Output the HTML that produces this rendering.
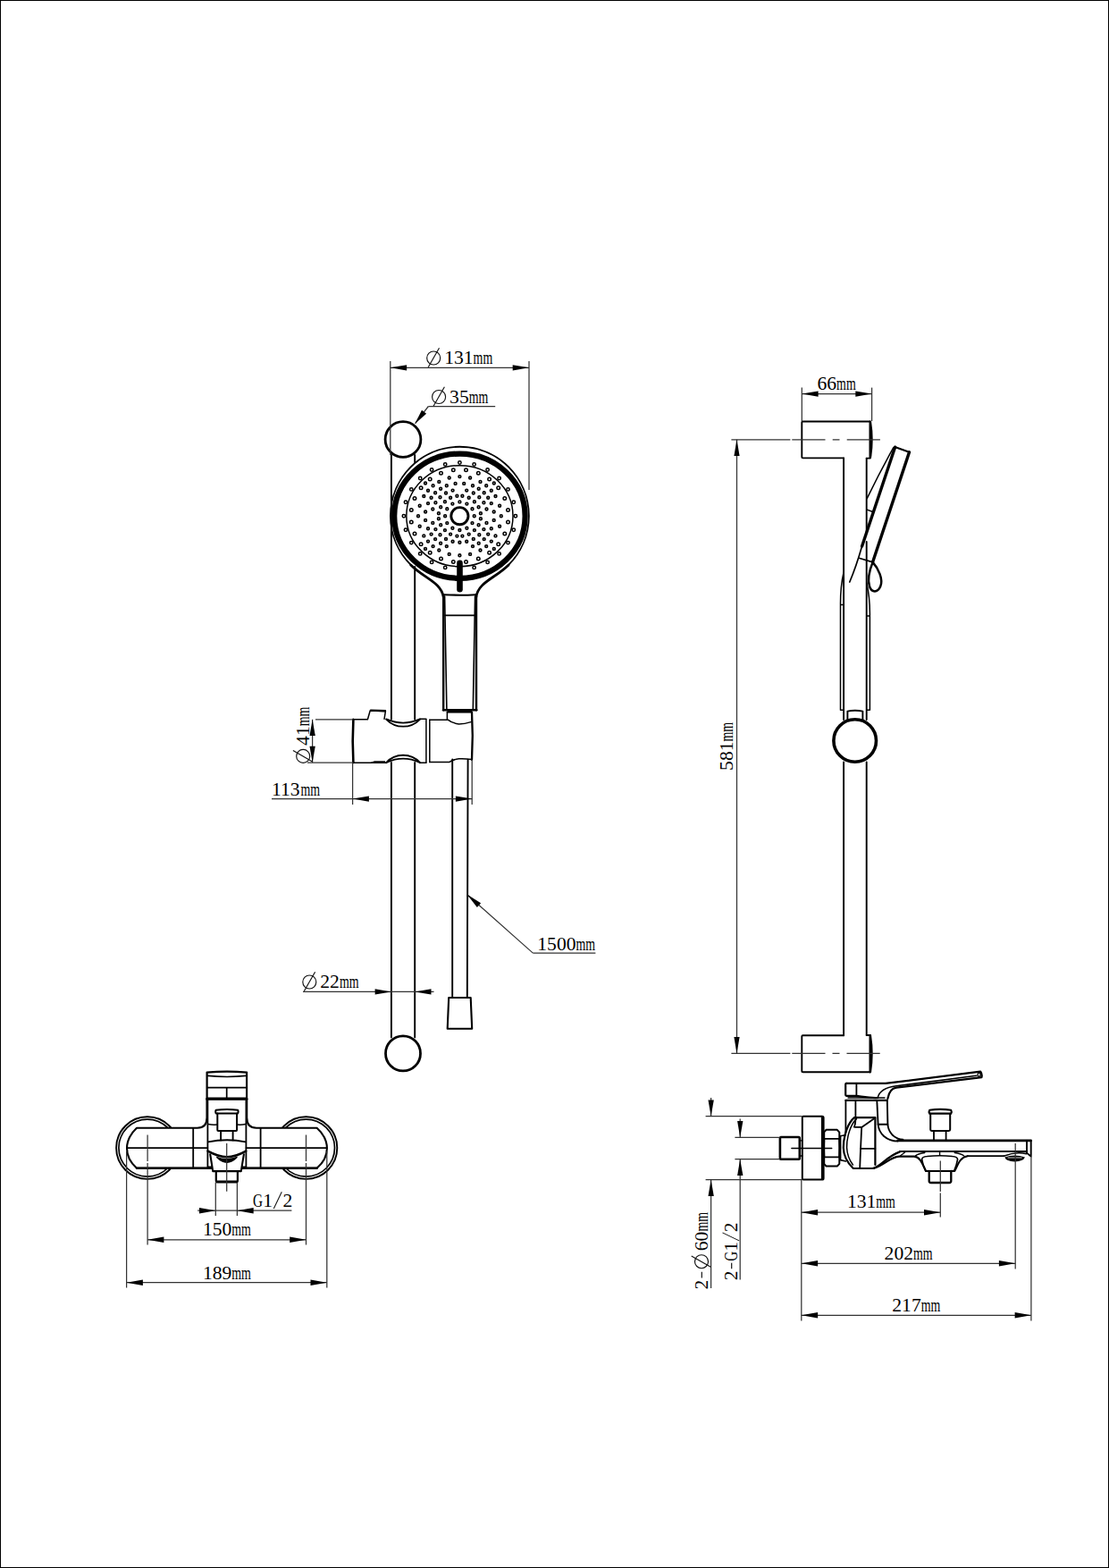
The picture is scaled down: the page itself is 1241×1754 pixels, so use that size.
<!DOCTYPE html>
<html><head><meta charset="utf-8"><title>Shower set drawing</title>
<style>
html,body{margin:0;padding:0;background:#fff;}
body{width:1241px;height:1754px;overflow:hidden;font-family:"Liberation Serif",serif;}
svg{display:block;position:absolute;left:0;top:0;}
.o{fill:none;stroke:#000;stroke-width:1.9;stroke-linecap:round;stroke-linejoin:round;}
.k{fill:none;stroke:#000;stroke-width:2.6;stroke-linecap:round;stroke-linejoin:round;}
.t{fill:none;stroke:#000;stroke-width:1.3;stroke-linecap:round;stroke-linejoin:round;}
.w{fill:#fff;stroke:#000;stroke-width:1.9;stroke-linejoin:round;}
.d{fill:none;stroke:#333;stroke-width:1.25;}
.s{fill:none;stroke:#111;stroke-width:1.15;}
.a{fill:#000;stroke:none;}
.h{fill:#ddd;stroke:#000;stroke-width:1.55;}.hw{fill:#fff;stroke-width:1.5;}
.tx text{font-family:"Liberation Serif",serif;font-size:21.6px;fill:#000;stroke:none;}
.tx text.m{font-size:21px;}
</style></head><body>
<svg width="1241" height="1754" viewBox="0 0 1241 1754">
<rect x="0.5" y="0.5" width="1240" height="1753" fill="#fff" stroke="#000" stroke-width="1"/>

<g id="front">
<path class="o" d="M437.9,509 V804.8 M437.9,853 V1160.5" />
<path class="o" d="M464.2,509 V517.5 M464.2,634 V804.8 M464.2,853 V1160.5" />
<circle class="o" cx="451" cy="491.5" r="19.9" style="stroke-width:2.8"/>
<circle class="o" cx="451" cy="1178.4" r="19.5" style="stroke-width:2.8"/>
<path class="o" d="M459.7,631.9 A77.4,77.4 0 1 1 569.1,631.9" />
<path class="o" d="M459.7,631.9 C474.7,646.9 493.5,651 496.3,668" style="stroke-width:2.8"/>
<path class="o" d="M569.1,631.9 C554.1,646.9 535.3,651 532.8,668" style="stroke-width:2.8"/>
<ellipse cx="514.4" cy="577.2" rx="73.2" ry="69.6" fill="none" stroke="#000" stroke-width="6.2"/>
<ellipse class="t" cx="514.4" cy="577.2" rx="59.6" ry="56.5" style="stroke-width:1.5"/>
<circle cx="514.4" cy="577.2" r="9.6" fill="none" stroke="#000" stroke-width="2.9"/>
<circle class="h hw" cx="514.4" cy="517.5" r="1.7"/>
<circle class="h hw" cx="530.6" cy="519.5" r="1.7"/>
<circle class="h hw" cx="545.6" cy="525.5" r="1.7"/>
<circle class="h hw" cx="558.6" cy="535.0" r="1.7"/>
<circle class="h hw" cx="568.5" cy="547.4" r="1.7"/>
<circle class="h hw" cx="574.8" cy="561.7" r="1.7"/>
<circle class="h hw" cx="576.9" cy="577.2" r="1.7"/>
<circle class="h hw" cx="574.8" cy="592.7" r="1.7"/>
<circle class="h hw" cx="568.5" cy="607.1" r="1.7"/>
<circle class="h hw" cx="558.6" cy="619.4" r="1.7"/>
<circle class="h hw" cx="545.6" cy="628.9" r="1.7"/>
<circle class="h hw" cx="530.6" cy="634.9" r="1.7"/>
<circle class="h hw" cx="498.2" cy="634.9" r="1.7"/>
<circle class="h hw" cx="483.1" cy="628.9" r="1.7"/>
<circle class="h hw" cx="470.2" cy="619.4" r="1.7"/>
<circle class="h hw" cx="460.3" cy="607.1" r="1.7"/>
<circle class="h hw" cx="454.0" cy="592.7" r="1.7"/>
<circle class="h hw" cx="451.9" cy="577.2" r="1.7"/>
<circle class="h hw" cx="454.0" cy="561.7" r="1.7"/>
<circle class="h hw" cx="460.3" cy="547.4" r="1.7"/>
<circle class="h hw" cx="470.2" cy="535.0" r="1.7"/>
<circle class="h hw" cx="483.1" cy="525.5" r="1.7"/>
<circle class="h hw" cx="498.2" cy="519.5" r="1.7"/>
<circle class="h hw" cx="521.5" cy="525.8" r="1.75"/>
<circle class="h hw" cx="535.3" cy="529.3" r="1.75"/>
<circle class="h hw" cx="547.6" cy="536.1" r="1.75"/>
<circle class="h hw" cx="557.7" cy="545.7" r="1.75"/>
<circle class="h hw" cx="564.8" cy="557.4" r="1.75"/>
<circle class="h hw" cx="568.5" cy="570.4" r="1.75"/>
<circle class="h hw" cx="568.5" cy="584.0" r="1.75"/>
<circle class="h hw" cx="564.8" cy="597.0" r="1.75"/>
<circle class="h hw" cx="557.7" cy="608.7" r="1.75"/>
<circle class="h hw" cx="547.6" cy="618.3" r="1.75"/>
<circle class="h hw" cx="535.3" cy="625.1" r="1.75"/>
<circle class="h hw" cx="521.5" cy="628.6" r="1.75"/>
<circle class="h hw" cx="507.3" cy="628.6" r="1.75"/>
<circle class="h hw" cx="493.5" cy="625.1" r="1.75"/>
<circle class="h hw" cx="481.2" cy="618.3" r="1.75"/>
<circle class="h hw" cx="471.1" cy="608.7" r="1.75"/>
<circle class="h hw" cx="464.0" cy="597.0" r="1.75"/>
<circle class="h hw" cx="460.3" cy="584.0" r="1.75"/>
<circle class="h hw" cx="460.3" cy="570.4" r="1.75"/>
<circle class="h hw" cx="464.0" cy="557.4" r="1.75"/>
<circle class="h hw" cx="471.1" cy="545.7" r="1.75"/>
<circle class="h hw" cx="481.2" cy="536.1" r="1.75"/>
<circle class="h hw" cx="493.5" cy="529.3" r="1.75"/>
<circle class="h hw" cx="507.3" cy="525.8" r="1.75"/>
<circle class="h" cx="476.0" cy="540.5" r="1.4"/>
<circle class="h" cx="476.0" cy="613.9" r="1.4"/>
<circle class="h" cx="552.8" cy="540.5" r="1.4"/>
<circle class="h" cx="552.8" cy="613.9" r="1.4"/>
<circle class="h" cx="502.7" cy="534.5" r="1.4"/>
<circle class="h" cx="502.7" cy="619.9" r="1.4"/>
<circle class="h" cx="526.1" cy="534.5" r="1.4"/>
<circle class="h" cx="526.1" cy="619.9" r="1.4"/>
<circle class="h" cx="491.3" cy="538.9" r="1.4"/>
<circle class="h" cx="491.3" cy="615.5" r="1.4"/>
<circle class="h" cx="537.5" cy="538.9" r="1.4"/>
<circle class="h" cx="537.5" cy="615.5" r="1.4"/>
<circle class="h" cx="484.6" cy="543.3" r="1.4"/>
<circle class="h" cx="484.6" cy="611.1" r="1.4"/>
<circle class="h" cx="544.2" cy="543.3" r="1.4"/>
<circle class="h" cx="544.2" cy="611.1" r="1.4"/>
<circle class="h" cx="499.8" cy="543.3" r="1.4"/>
<circle class="h" cx="499.8" cy="611.1" r="1.4"/>
<circle class="h" cx="529.0" cy="543.3" r="1.4"/>
<circle class="h" cx="529.0" cy="611.1" r="1.4"/>
<circle class="h" cx="509.6" cy="540.9" r="1.4"/>
<circle class="h" cx="519.2" cy="540.9" r="1.4"/>
<circle class="h" cx="493.1" cy="546.7" r="1.4"/>
<circle class="h" cx="493.1" cy="607.7" r="1.4"/>
<circle class="h" cx="535.7" cy="546.7" r="1.4"/>
<circle class="h" cx="535.7" cy="607.7" r="1.4"/>
<circle class="h" cx="506.6" cy="548.6" r="1.4"/>
<circle class="h" cx="506.6" cy="605.8" r="1.4"/>
<circle class="h" cx="522.2" cy="548.6" r="1.4"/>
<circle class="h" cx="522.2" cy="605.8" r="1.4"/>
<circle class="h" cx="479.0" cy="548.8" r="1.4"/>
<circle class="h" cx="479.0" cy="605.6" r="1.4"/>
<circle class="h" cx="549.8" cy="548.8" r="1.4"/>
<circle class="h" cx="549.8" cy="605.6" r="1.4"/>
<circle class="h" cx="487.1" cy="551.3" r="1.4"/>
<circle class="h" cx="487.1" cy="603.1" r="1.4"/>
<circle class="h" cx="541.7" cy="551.3" r="1.4"/>
<circle class="h" cx="541.7" cy="603.1" r="1.4"/>
<circle class="h" cx="499.0" cy="551.5" r="1.4"/>
<circle class="h" cx="499.0" cy="602.9" r="1.4"/>
<circle class="h" cx="529.8" cy="551.5" r="1.4"/>
<circle class="h" cx="529.8" cy="602.9" r="1.4"/>
<circle class="h" cx="474.3" cy="555.0" r="1.4"/>
<circle class="h" cx="474.3" cy="599.4" r="1.4"/>
<circle class="h" cx="554.5" cy="555.0" r="1.4"/>
<circle class="h" cx="554.5" cy="599.4" r="1.4"/>
<circle class="h" cx="482.6" cy="556.8" r="1.4"/>
<circle class="h" cx="482.6" cy="597.6" r="1.4"/>
<circle class="h" cx="546.2" cy="556.8" r="1.4"/>
<circle class="h" cx="546.2" cy="597.6" r="1.4"/>
<circle class="h" cx="492.5" cy="556.2" r="1.4"/>
<circle class="h" cx="492.5" cy="598.2" r="1.4"/>
<circle class="h" cx="536.3" cy="556.2" r="1.4"/>
<circle class="h" cx="536.3" cy="598.2" r="1.4"/>
<circle class="h" cx="504.1" cy="556.8" r="1.4"/>
<circle class="h" cx="504.1" cy="597.6" r="1.4"/>
<circle class="h" cx="524.7" cy="556.8" r="1.4"/>
<circle class="h" cx="524.7" cy="597.6" r="1.4"/>
<circle class="h" cx="511.4" cy="554.8" r="1.4"/>
<circle class="h" cx="511.4" cy="599.6" r="1.4"/>
<circle class="h" cx="517.4" cy="554.8" r="1.4"/>
<circle class="h" cx="517.4" cy="599.6" r="1.4"/>
<circle class="h" cx="497.9" cy="561.3" r="1.4"/>
<circle class="h" cx="497.9" cy="593.1" r="1.4"/>
<circle class="h" cx="530.9" cy="561.3" r="1.4"/>
<circle class="h" cx="530.9" cy="593.1" r="1.4"/>
<circle class="h" cx="487.4" cy="562.3" r="1.4"/>
<circle class="h" cx="487.4" cy="592.1" r="1.4"/>
<circle class="h" cx="541.4" cy="562.3" r="1.4"/>
<circle class="h" cx="541.4" cy="592.1" r="1.4"/>
<circle class="h" cx="479.0" cy="563.1" r="1.4"/>
<circle class="h" cx="479.0" cy="591.3" r="1.4"/>
<circle class="h" cx="549.8" cy="563.1" r="1.4"/>
<circle class="h" cx="549.8" cy="591.3" r="1.4"/>
<circle class="h" cx="506.4" cy="563.6" r="1.4"/>
<circle class="h" cx="506.4" cy="590.8" r="1.4"/>
<circle class="h" cx="522.4" cy="563.6" r="1.4"/>
<circle class="h" cx="522.4" cy="590.8" r="1.4"/>
<circle class="h" cx="469.7" cy="565.7" r="1.4"/>
<circle class="h" cx="469.7" cy="588.7" r="1.4"/>
<circle class="h" cx="559.1" cy="565.7" r="1.4"/>
<circle class="h" cx="559.1" cy="588.7" r="1.4"/>
<circle class="h" cx="493.2" cy="567.2" r="1.4"/>
<circle class="h" cx="493.2" cy="587.2" r="1.4"/>
<circle class="h" cx="535.6" cy="567.2" r="1.4"/>
<circle class="h" cx="535.6" cy="587.2" r="1.4"/>
<circle class="h" cx="484.3" cy="569.5" r="1.4"/>
<circle class="h" cx="484.3" cy="584.9" r="1.4"/>
<circle class="h" cx="544.5" cy="569.5" r="1.4"/>
<circle class="h" cx="544.5" cy="584.9" r="1.4"/>
<circle class="h" cx="500.3" cy="569.3" r="1.4"/>
<circle class="h" cx="500.3" cy="585.1" r="1.4"/>
<circle class="h" cx="528.5" cy="569.3" r="1.4"/>
<circle class="h" cx="528.5" cy="585.1" r="1.4"/>
<circle class="h" cx="476.1" cy="572.5" r="1.4"/>
<circle class="h" cx="476.1" cy="581.9" r="1.4"/>
<circle class="h" cx="552.7" cy="572.5" r="1.4"/>
<circle class="h" cx="552.7" cy="581.9" r="1.4"/>
<circle class="h" cx="490.9" cy="574.2" r="1.4"/>
<circle class="h" cx="490.9" cy="580.2" r="1.4"/>
<circle class="h" cx="537.9" cy="574.2" r="1.4"/>
<circle class="h" cx="537.9" cy="580.2" r="1.4"/>
<circle class="h" cx="514.4" cy="606.8" r="1.4"/>
<circle class="h" cx="514.4" cy="533.1" r="1.4"/>
<circle class="h" cx="514.4" cy="561.4" r="1.4"/>
<circle class="h" cx="514.4" cy="621.3" r="1.4"/>
<circle class="h" cx="514.4" cy="593.0" r="1.4"/>
<circle class="h" cx="468.0" cy="577.2" r="1.4"/>
<circle class="h" cx="498.1" cy="577.2" r="1.4"/>
<circle class="h" cx="560.8" cy="577.2" r="1.4"/>
<circle class="h" cx="530.7" cy="577.2" r="1.4"/>
<line x1="514.5" y1="629.9" x2="514.5" y2="659.3" stroke="#000" stroke-width="6.6" stroke-linecap="round"/>
<path class="o" d="M496.2,667 V794.3 M533.0,667 V794.3" style="stroke-width:2.4"/>
<path class="o" d="M497.6,667 L499.9,794 M531.6,667 L529.3,794" style="stroke-width:1.6"/>
<path class="o" d="M496.5,665.2 Q514.5,666.2 532.7,665.2" style="stroke-width:2.1"/>
<path class="o" d="M498,688.4 H531.2" style="stroke-width:1.8"/>
<path class="o" d="M496,794.3 H533.3" style="stroke-width:2.4"/>
<rect x="500.6" y="794" width="27.4" height="3.4" fill="#000"/>
<path class="o" d="M395.4,804.8 Q394.0,829 395.4,853" style="stroke-width:2.6"/>
<path class="o" d="M395.4,804.8 H411.4 L414.2,795 L431.4,795.6 L430,804.3" style="stroke-width:1.5"/>
<path class="o" d="M415,794.6 L431,795.2" style="stroke-width:2.4"/>
<path class="o" d="M432.2,804.4 A46.7,46.7 0 0 0 470,804.4" style="stroke-width:1.9"/>
<path class="o" d="M470,804.2 H476.9" style="stroke-width:1.5"/>
<path class="o" d="M432.4,804.8 A26.1,26.1 0 0 0 469.8,804.8" style="stroke-width:1.8"/>
<path class="o" d="M395.4,853.2 H432.4 M470,853.2 H476.9" style="stroke-width:1.5"/>
<path d="M414.5,853 L419,851.2 H431 V853.6 H414.5 Z" fill="#000"/>
<path class="o" d="M432.2,853.2 A25.5,25.5 0 0 1 470,853.2" style="stroke-width:1.9"/>
<path class="o" d="M432.4,853 A44.6,44.6 0 0 1 469.8,853" style="stroke-width:1.8"/>
<path class="o" d="M476.9,804.8 V853 M480.8,805.2 V852.4" style="stroke-width:1.5"/>
<path class="o" d="M480.8,805.2 H500.4 M500.4,796.6 V804.6 Q506,809 513.5,810 Q520,810 527,807.6" style="stroke-width:1.5"/>
<path class="o" d="M500.4,796.6 H528" style="stroke-width:1.5"/>
<path class="o" d="M528,796.6 Q529.6,823 528,849.8" style="stroke-width:2.3"/>
<path class="o" d="M480.8,852.4 H503 Q507.5,849.4 513.5,848.8 Q520,848.4 527.6,849.6" style="stroke-width:1.5"/>
<path class="o" d="M506.2,849.5 V1115.5 M523.6,849.8 L522.8,1115.5" />
<path class="o" d="M502.2,1116 H526.7 L528.2,1150.8 H500.7 Z" style="stroke-width:2.1"/>
</g>
<g id="dim1">
<line class="d" x1="436.8" y1="404.0" x2="436.8" y2="509.0"/>
<line class="d" x1="592.0" y1="404.0" x2="592.0" y2="548.0"/>
<line class="d" x1="436.8" y1="411.3" x2="592.0" y2="411.3"/>
<polygon class="a" points="436.8,411.3 455.1,408.2 455.1,414.4"/>
<polygon class="a" points="592.0,411.3 573.7,414.4 573.7,408.2"/>
<g class="tx" transform="translate(475.6,407.4) rotate(0)">
<ellipse class="s" cx="9.6" cy="-6.9" rx="7.5" ry="7.5"/>
<line class="s" x1="15.9" y1="-18.2" x2="3.6" y2="3.4"/>
<text x="21.6" y="0">131</text>
<text class="m" x="54" y="0" textLength="21.6" lengthAdjust="spacingAndGlyphs">mm</text>
</g>
<line class="d" x1="464.6" y1="473.6" x2="479.4" y2="454.5"/>
<line class="d" x1="479.4" y1="454.5" x2="554.2" y2="454.5"/>
<polygon class="a" points="464.2,474.2 472.0,458.8 477.1,462.7"/>
<g class="tx" transform="translate(481.5,450.9) rotate(0)">
<ellipse class="s" cx="9.6" cy="-6.9" rx="7.5" ry="7.5"/>
<line class="s" x1="15.9" y1="-18.2" x2="3.6" y2="3.4"/>
<text x="21.6" y="0">35</text>
<text class="m" x="43.2" y="0" textLength="21.6" lengthAdjust="spacingAndGlyphs">mm</text>
</g>
<line class="d" x1="353.0" y1="804.8" x2="394.6" y2="804.8"/>
<line class="d" x1="344.0" y1="853.0" x2="394.6" y2="853.0"/>
<line class="d" x1="349.6" y1="804.8" x2="349.6" y2="853.0"/>
<polygon class="a" points="349.6,804.8 352.8,823.1 346.5,823.1"/>
<polygon class="a" points="349.6,853.0 346.5,834.7 352.8,834.7"/>
<g class="tx" transform="translate(346.1,855.5) rotate(-90)">
<ellipse class="s" cx="9.6" cy="-6.9" rx="7.5" ry="7.5"/>
<line class="s" x1="15.9" y1="-18.2" x2="3.6" y2="3.4"/>
<text x="21.6" y="0">41</text>
<text class="m" x="43.2" y="0" textLength="21.6" lengthAdjust="spacingAndGlyphs">mm</text>
</g>
<line class="d" x1="394.6" y1="853.0" x2="394.6" y2="900.0"/>
<line class="d" x1="528.2" y1="850.0" x2="528.2" y2="900.0"/>
<line class="d" x1="304.0" y1="893.6" x2="528.2" y2="893.6"/>
<polygon class="a" points="394.6,893.6 412.9,890.5 412.9,896.8"/>
<polygon class="a" points="528.2,893.6 509.9,896.8 509.9,890.5"/>
<g class="tx" transform="translate(304.0,889.8) rotate(0)">
<text x="0" y="0">113</text>
<text class="m" x="32.4" y="0" textLength="21.6" lengthAdjust="spacingAndGlyphs">mm</text>
</g>
<line class="d" x1="339.0" y1="1109.4" x2="485.5" y2="1109.4"/>
<polygon class="a" points="437.9,1109.4 419.6,1112.6 419.6,1106.2"/>
<polygon class="a" points="464.2,1109.4 482.5,1106.2 482.5,1112.6"/>
<g class="tx" transform="translate(336.7,1105.4) rotate(0)">
<ellipse class="s" cx="9.6" cy="-6.9" rx="7.5" ry="7.5"/>
<line class="s" x1="15.9" y1="-18.2" x2="3.6" y2="3.4"/>
<text x="21.6" y="0">22</text>
<text class="m" x="43.2" y="0" textLength="21.6" lengthAdjust="spacingAndGlyphs">mm</text>
</g>
<line class="d" x1="523.0" y1="1001.0" x2="596.4" y2="1066.1"/>
<line class="d" x1="596.4" y1="1066.1" x2="666.4" y2="1066.1"/>
<polygon class="a" points="522.6,1000.6 538.1,1010.2 533.9,1015.0"/>
<g class="tx" transform="translate(601.3,1063.0) rotate(0)">
<text x="0" y="0">1500</text>
<text class="m" x="43.2" y="0" textLength="21.6" lengthAdjust="spacingAndGlyphs">mm</text>
</g>
</g>
<g id="side">
<path class="o" d="M944.1,512.4 H898.4 Q897.3,512.4 897.3,511.3 V472.6 Q897.3,471.5 898.4,471.5 H973.6" />
<path class="o" d="M973.8,471.8 Q977,491.8 973.8,511.6 Z" style="stroke-width:2.6;fill:#000"/>
<path class="o" d="M973.8,512.6 H969.7" />
<path class="o" d="M944.1,1158.2 H898.4 Q897.3,1158.2 897.3,1159.3 V1198.2 Q897.3,1199.3 898.4,1199.3 H973.8" />
<path class="o" d="M973.8,1158.4 Q977,1178.8 973.8,1199.1 Z" style="stroke-width:2.6;fill:#000"/>
<path class="o" d="M973.8,1158 H969.7" />
<path class="o" d="M944.1,512.4 V805 M944.1,852.5 V1158.2" />
<path class="o" d="M969.7,512.6 V596 M969.7,606 V805 M969.7,852.5 V1158" />
<path class="t" d="M944.1,640 Q940.4,656 940.5,676.6 V794.3 H944.1 M940.5,676.6 H944.1" style="stroke-width:1.5"/>
<path class="t" d="M969.7,652 Q973.6,668 973.4,689 V794.3 H969.7 M973.4,689 H969.7" style="stroke-width:1.5"/>
<path class="o" d="M948.4,806 V795.6 Q956.8,794 965.4,795.6 V806" />
<circle cx="956.7" cy="828.5" r="23.8" fill="#fff" stroke="#000" stroke-width="3.6"/>
<path class="t" d="M999.8,500.6 Q984.4,528.4 970.2,557.6" style="stroke-width:1.5"/>
<path class="t" d="M970.2,570.1 L975.9,572.3" style="stroke-width:1.5"/>
<path class="o" d="M1001.6,500.2 L964.6,611" style="stroke-width:3.4"/>
<path class="t" d="M964.6,611 Q958,634 950.8,651" style="stroke-width:1.7"/>
<path class="o" d="M1001.4,500 L1017.5,505.7" style="stroke-width:2.2"/>
<path class="o" d="M1017.5,505.8 L976.6,628.8" style="stroke-width:3.4"/>
<path class="t" d="M961.2,624.3 L976.6,628.9" style="stroke-width:1.7"/>
<path class="o" d="M976.6,628.9 C983,636 988.6,648 985.2,656 C982,663.4 975.4,663 973,656 C970.6,648.6 972.2,640 976.6,628.9" style="stroke-width:2.5"/>
</g>
<g id="dim2">
<line class="d" x1="897.3" y1="433.6" x2="897.3" y2="471.0"/>
<line class="d" x1="975.6" y1="433.6" x2="975.6" y2="471.0"/>
<line class="d" x1="897.3" y1="440.6" x2="975.6" y2="440.6"/>
<polygon class="a" points="897.3,440.6 915.6,437.5 915.6,443.8"/>
<polygon class="a" points="975.6,440.6 957.3,443.8 957.3,437.5"/>
<g class="tx" transform="translate(914.5,436.0) rotate(0)">
<text x="0" y="0">66</text>
<text class="m" x="21.6" y="0" textLength="21.6" lengthAdjust="spacingAndGlyphs">mm</text>
</g>
<path class="d" d="M818.4,491.8 H884.4" />
<path class="d" d="M886.3,491.8 H985.2" stroke-dasharray="37.2,8.2,7.8,8.2"/>
<path class="d" d="M818.4,1178.4 H884.4" />
<path class="d" d="M886.3,1178.4 H985.2" stroke-dasharray="37.2,8.0,8.0,8.0"/>
<line class="d" x1="824.5" y1="491.8" x2="824.5" y2="1178.4"/>
<polygon class="a" points="824.5,491.8 827.6,510.1 821.4,510.1"/>
<polygon class="a" points="824.5,1178.4 821.4,1160.1 827.6,1160.1"/>
<g class="tx" transform="translate(820.1,861.9) rotate(-90)">
<text x="0" y="0">581</text>
<text class="m" x="32.4" y="0" textLength="21.6" lengthAdjust="spacingAndGlyphs">mm</text>
</g>
</g>
<g id="mixfront">
<circle class="o" cx="164.9" cy="1284.1" r="34.8" style="stroke-width:1.9"/>
<circle class="t" cx="164.9" cy="1284.1" r="32.0" style="stroke-width:1.7"/>
<circle class="o" cx="342.5" cy="1284.1" r="34.8" style="stroke-width:1.9"/>
<circle class="t" cx="342.5" cy="1284.1" r="32.0" style="stroke-width:1.7"/>
<path class="w" d="M153,1261.8 H220.8 Q231.5,1261.8 231.5,1250.3 V1229.2 H276.2 V1250.3 Q276.2,1261.8 287,1261.8 H354.6 C361.5,1268 365.9,1276 365.9,1284.6 C365.9,1293 361.5,1301 354.6,1306.8 H153 C146.4,1301 142,1293 142,1284.6 C142,1276 146.4,1268 153,1261.8 Z" style="stroke-width:2.1"/>
<path class="o" d="M153,1306.8 H354.6" style="stroke-width:2.5"/>
<line x1="237.6" y1="1306.8" x2="270.4" y2="1306.8" stroke="#fff" stroke-width="4"/>
<path class="o" d="M142.2,1284.1 H232.4 M275.4,1284.1 H365.8" style="stroke-width:1.7"/>
<path class="o" d="M216.2,1261.9 V1306.6 M291.6,1261.9 V1306.6" style="stroke-width:1.8"/>
<path class="o" d="M232.4,1231 V1306.4 M275.4,1231 V1306.4" style="stroke-width:1.8"/>
<path class="o" d="M233,1257.6 Q238,1258.4 243,1258 M265.4,1258 Q270,1258.4 274.8,1257.6" style="stroke-width:1.5"/>
<path class="o" d="M232.6,1305.2 H236.8 M271.2,1305.2 H275.2" style="stroke-width:1.4"/>
<path class="w" d="M231.6,1199.6 Q253.8,1197.8 276.1,1199.6 V1228.6 H231.6 Z" style="stroke-width:2.2"/>
<path class="o" d="M232.6,1203.4 Q253.8,1205.6 275.2,1203.4" style="stroke-width:1.6"/>
<path class="o" d="M232,1216.6 H275.8 M253.7,1216.6 V1228.6" style="stroke-width:1.7"/>
<path class="o" d="M231.6,1229.4 H276.1" style="stroke-width:2.8"/>
<path class="o" d="M241.6,1241.8 Q253.8,1240.2 266.2,1241.8 Q267,1243.6 266.2,1245.4 H241.6 Q240.8,1243.6 241.6,1241.8 Z" style="stroke-width:2;fill:#fff"/>
<path class="o" d="M243.3,1245.6 V1264 Q243.3,1264.9 244.2,1264.9 H264.2 Q265.1,1264.9 265.1,1264 V1245.6" style="stroke-width:2"/>
<path class="o" d="M247.1,1264.9 V1275.4 M260.6,1264.9 V1275.4" style="stroke-width:1.9"/>
<path class="o" d="M233,1277.4 Q253.8,1273.2 274.8,1277.4" style="stroke-width:1.9"/>
<path class="o" d="M232.6,1287.6 C240,1291.6 246,1294.2 253.8,1294.2 C261.4,1294.2 268,1291.6 275.2,1287.6" style="stroke-width:2.4"/>
<path d="M241.8,1293.4 Q253.8,1298.4 266,1293.4 L265.4,1295.2 Q253.8,1306.6 242.4,1295.2 Z" fill="#000"/>
<path class="o" d="M235.2,1291.2 L238.2,1310.1 H269.8 L272.9,1291.2" style="stroke-width:2.1"/>
<path class="o" d="M241.8,1310.1 V1320.4 Q241.8,1322 243.4,1322 H264.2 Q265.9,1322 265.9,1320.4 V1310.1" style="stroke-width:2.2"/>
<path class="o" d="M242.6,1322 H265" style="stroke-width:2.8"/>
</g>
<g id="dim3">
<path class="d" d="M253.7,1279 V1332.8"/>
<path class="d" d="M165.1,1269.4 V1392.6" stroke-dasharray="29.6,2,92"/>
<path class="d" d="M342.5,1269.4 V1392.6" stroke-dasharray="29.6,2,92"/>
<line class="d" x1="241.3" y1="1323.0" x2="241.3" y2="1360.0"/>
<line class="d" x1="265.4" y1="1323.0" x2="265.4" y2="1360.0"/>
<line class="d" x1="221.2" y1="1354.2" x2="326.4" y2="1354.2"/>
<polygon class="a" points="241.3,1354.2 223.0,1357.4 223.0,1351.0"/>
<polygon class="a" points="265.4,1354.2 283.7,1351.0 283.7,1357.4"/>
<g class="tx" transform="translate(282.9,1350.1) rotate(0)">
<text x="0" y="0" textLength="11" lengthAdjust="spacingAndGlyphs">G</text>
<text x="11.3" y="0">1</text>
<line class="s" x1="23.4" y1="1.8" x2="32.4" y2="-16.8" style="stroke-width:1.05"/>
<text x="33.5" y="0">2</text>
</g>
<line class="d" x1="165.1" y1="1386.8" x2="342.5" y2="1386.8"/>
<polygon class="a" points="165.1,1386.8 183.4,1383.6 183.4,1390.0"/>
<polygon class="a" points="342.5,1386.8 324.2,1390.0 324.2,1383.6"/>
<g class="tx" transform="translate(226.9,1382.2) rotate(0)">
<text x="0" y="0">150</text>
<text class="m" x="32.4" y="0" textLength="21.6" lengthAdjust="spacingAndGlyphs">mm</text>
</g>
<line class="d" x1="141.6" y1="1288.0" x2="141.6" y2="1440.5"/>
<line class="d" x1="365.8" y1="1288.0" x2="365.8" y2="1440.5"/>
<line class="d" x1="141.6" y1="1434.7" x2="365.8" y2="1434.7"/>
<polygon class="a" points="141.6,1434.7 159.9,1431.5 159.9,1437.9"/>
<polygon class="a" points="365.8,1434.7 347.5,1437.9 347.5,1431.5"/>
<g class="tx" transform="translate(226.9,1430.6) rotate(0)">
<text x="0" y="0">189</text>
<text class="m" x="32.4" y="0" textLength="21.6" lengthAdjust="spacingAndGlyphs">mm</text>
</g>
</g>
<g id="mixside">
<path class="o" d="M874,1272 H893.6 Q894.8,1272 894.8,1273.2 V1295.6 Q894.8,1296.8 893.6,1296.8 H874 Q872.9,1296.8 872.9,1295.6 V1273.2 Q872.9,1272 874,1272 Z" style="stroke-width:2.6"/>
<path class="t" d="M894.8,1275.8 H897.6 M894.8,1293 H897.6" />
<path class="o" d="M898.8,1248.8 H920 Q921.6,1248.8 921.6,1250.4 V1318 Q921.6,1319.6 920,1319.6 H898.8 Q897.8,1319.6 897.8,1318.6 V1249.8 Q897.8,1248.8 898.8,1248.8 Z" style="stroke-width:2"/>
<path class="o" d="M920.4,1250.2 V1318.4" style="stroke-width:3"/>
<path class="o" d="M922.2,1266.4 L924.6,1263.8 H936.8 L939.3,1266.6 V1301.8 L936.8,1304.6 H924.6 L922.2,1302 Z" style="stroke-width:2"/>
<path class="o" d="M922.6,1273.8 H939 M922.6,1294.4 H939" style="stroke-width:1.8"/>
<path class="t" d="M922.6,1273.8 Q921.8,1284 922.6,1294.4 M939,1273.8 Q940.2,1284 939,1294.4" />
<path class="o" d="M940.4,1270.8 L946,1269.8 M940.4,1297.6 L946.4,1299 M940.6,1270.8 V1297.6" style="stroke-width:1.6"/>
<path class="o" d="M956,1250.2 H979.4 V1303 M956,1250.2 C949,1256 943.8,1270 943.8,1284 C944,1294 948.6,1301 954.8,1307 H976 C984,1307 992,1293.4 1007,1288.4" style="stroke-width:2.2"/>
<path class="t" d="M958.4,1251.6 C951.6,1258 947.4,1272 947.6,1284 C948,1292 950.6,1298 954.4,1303" style="stroke-width:1.5"/>
<path class="o" d="M979.3,1250.4 L964.6,1260.8 H956.6" style="stroke-width:1.8"/>
<path class="o" d="M964.2,1261 Q963,1284 962.2,1306.6" style="stroke-width:1.8"/>
<path class="o" d="M963.2,1284.8 H979.4" style="stroke-width:1.7"/>
<path class="o" d="M946.4,1231 V1267 M957.4,1231 V1250 Q957.4,1258 955.8,1260.6" style="stroke-width:1.8"/>
<path class="o" d="M946.4,1230.8 H992.6" style="stroke-width:2.2"/>
<path class="t" d="M949,1228 H990" style="stroke-width:1.4"/>
<path class="o" d="M981.3,1231 L982.6,1257.8 H993.4 L992.8,1231" style="stroke-width:1.9"/>
<path class="o" d="M982.6,1257.8 C983.4,1268 992,1276.6 1004.6,1276.6" style="stroke-width:1.9"/>
<path class="o" d="M993.4,1257.8 C994,1266 1000,1274 1010.4,1274.8" style="stroke-width:1.9"/>
<path class="o" d="M947.2,1211.9 H991 L1097.2,1198.6 Q1099.4,1201.6 1098.4,1205.2 L1003,1216.6 C997.6,1217.4 994.6,1222 993.4,1228.8" style="stroke-width:2.2"/>
<path class="o" d="M947.2,1211.9 Q946.2,1211.9 946.2,1213 V1224.8 Q946.2,1225.8 947.2,1225.8 H958 C964,1226.4 972,1228.4 982,1228 " style="stroke-width:2.2"/>
<path class="o" d="M958.4,1212 V1225.6" style="stroke-width:1.8"/>
<path class="o" d="M1092.6,1203.2 L1003,1214.8 C991,1216.2 984,1220.4 982.2,1228" style="stroke-width:1.6"/>
<ellipse class="t" cx="1095.6" cy="1202.2" rx="1.5" ry="2.1"/>
<path class="o" d="M1004.6,1275.9 H1153.6" style="stroke-width:2.8"/>
<path class="o" d="M1007,1288 H1149" style="stroke-width:2.2"/>
<path class="o" d="M1149,1276 V1289.6 Q1151.4,1291.8 1153.7,1293.6 V1276" style="stroke-width:1.9"/>
<path class="o" d="M1082.8,1293.2 H1123.2" style="stroke-width:1.8"/>
<path class="o" d="M1123.2,1293.2 Q1136,1288 1148.6,1290.6" style="stroke-width:1.6"/>
<path d="M1124.2,1294.4 Q1135.6,1290.6 1147,1294.4 Q1145,1299 1135.6,1299.4 Q1126,1299 1124.2,1294.4 Z" fill="#000"/>
<path d="M1127.6,1295 H1143.6" stroke="#fff" stroke-width="0.8" fill="none"/>
<path class="o" d="M978,1306.8 C990,1303 996,1294.4 1006,1293.6 H1023 C1030.4,1294.4 1032.4,1303 1036.2,1310 H1068.2 C1072,1303 1074,1294.4 1082.8,1293.2" style="stroke-width:2.1"/>
<path class="t" d="M1012.9,1288.8 L1007.7,1292.8" style="stroke-width:1.4"/>
<path class="t" d="M1034.8,1289.4 Q1028,1290.2 1024.5,1292.8 M1068.3,1289.4 Q1075,1290.2 1078.6,1292.8" style="stroke-width:1.5"/>
<path class="t" d="M1051.6,1288.6 V1292.4" style="stroke-width:1.4"/>
<path class="o" d="M1035.8,1310 Q1032.6,1303 1031.6,1296.8 Q1032,1293.8 1037.4,1293.5 Q1051.6,1292 1065.8,1293.5 Q1071.2,1293.8 1071.6,1296.8 Q1070.6,1303 1067.6,1310" style="stroke-width:1.7"/>
<path class="o" d="M1039.7,1310 V1321 Q1039.7,1323 1041.7,1323 H1062.3 Q1064.3,1323 1064.3,1321 V1310" style="stroke-width:2.3"/>
<path class="o" d="M1040.2,1241.8 Q1052.2,1240 1064.2,1241.8 Q1065.4,1243.6 1064.2,1245.6 H1040.2 Q1039,1243.6 1040.2,1241.8 Z" style="stroke-width:2.1"/>
<path class="o" d="M1041.2,1245.8 V1263.6 Q1041.2,1264.9 1042.6,1264.9 H1061.8 Q1063.2,1264.9 1063.2,1263.6 V1245.8" style="stroke-width:2"/>
<path class="o" d="M1045,1265 V1275 M1058.6,1265 V1275" style="stroke-width:1.8"/>
</g>
<g id="dim4">
<line class="t" x1="885.8" y1="1284.5" x2="930.8" y2="1284.5"/>
<line class="d" x1="789.6" y1="1248.7" x2="897.0" y2="1248.7"/>
<line class="d" x1="789.6" y1="1319.6" x2="897.0" y2="1319.6"/>
<line class="d" x1="795.6" y1="1228.0" x2="795.6" y2="1248.7"/>
<line class="d" x1="795.6" y1="1319.6" x2="795.6" y2="1441.0"/>
<polygon class="a" points="795.6,1248.7 792.5,1230.4 798.8,1230.4"/>
<polygon class="a" points="795.6,1319.6 798.8,1337.9 792.5,1337.9"/>
<g class="tx" transform="translate(791.9,1442.4) rotate(-90)">
<text x="0" y="0">2</text>
<line class="s" x1="13.0" y1="-6.6" x2="19.6" y2="-6.6" style="stroke-width:1.2"/>
<ellipse class="s" cx="31.2" cy="-6.9" rx="7.5" ry="7.5"/>
<line class="s" x1="37.5" y1="-18.2" x2="25.2" y2="3.4"/>
<text x="43.2" y="0">60</text>
<text class="m" x="64.8" y="0" textLength="21.6" lengthAdjust="spacingAndGlyphs">mm</text>
</g>
<line class="d" x1="822.4" y1="1272.3" x2="872.6" y2="1272.3"/>
<line class="d" x1="822.4" y1="1296.7" x2="872.6" y2="1296.7"/>
<line class="d" x1="828.2" y1="1251.6" x2="828.2" y2="1272.3"/>
<line class="d" x1="828.2" y1="1296.7" x2="828.2" y2="1431.4"/>
<polygon class="a" points="828.2,1272.3 825.1,1254.0 831.4,1254.0"/>
<polygon class="a" points="828.2,1296.7 831.4,1315.0 825.1,1315.0"/>
<g class="tx" transform="translate(825.3,1432.3) rotate(-90)">
<text x="0" y="0">2</text>
<line class="s" x1="13.0" y1="-6.6" x2="19.6" y2="-6.6" style="stroke-width:1.2"/>
<text x="21.5" y="0" textLength="11" lengthAdjust="spacingAndGlyphs">G</text>
<text x="32.5" y="0">1</text>
<line class="s" x1="44.4" y1="1.8" x2="53.4" y2="-16.8" style="stroke-width:1.05"/>
<text x="54" y="0">2</text>
</g>
<line class="d" x1="896.8" y1="1320.0" x2="896.8" y2="1477.5"/>
<path class="d" d="M1052.3,1298.4 V1361.4" stroke-dasharray="34.5,1.6,40"/>
<line class="d" x1="1136.2" y1="1279.0" x2="1136.2" y2="1419.5"/>
<line class="d" x1="1153.9" y1="1294.0" x2="1153.9" y2="1477.5"/>
<line class="d" x1="896.8" y1="1356.2" x2="1052.3" y2="1356.2"/>
<polygon class="a" points="896.8,1356.2 915.1,1353.0 915.1,1359.4"/>
<polygon class="a" points="1052.3,1356.2 1034.0,1359.4 1034.0,1353.0"/>
<g class="tx" transform="translate(947.9,1351.4) rotate(0)">
<text x="0" y="0">131</text>
<text class="m" x="32.4" y="0" textLength="21.6" lengthAdjust="spacingAndGlyphs">mm</text>
</g>
<line class="d" x1="896.8" y1="1413.3" x2="1136.2" y2="1413.3"/>
<polygon class="a" points="896.8,1413.3 915.1,1410.1 915.1,1416.5"/>
<polygon class="a" points="1136.2,1413.3 1117.9,1416.5 1117.9,1410.1"/>
<g class="tx" transform="translate(989.6,1409.4) rotate(0)">
<text x="0" y="0">202</text>
<text class="m" x="32.4" y="0" textLength="21.6" lengthAdjust="spacingAndGlyphs">mm</text>
</g>
<line class="d" x1="896.8" y1="1471.3" x2="1153.9" y2="1471.3"/>
<polygon class="a" points="896.8,1471.3 915.1,1468.1 915.1,1474.5"/>
<polygon class="a" points="1153.9,1471.3 1135.6,1474.5 1135.6,1468.1"/>
<g class="tx" transform="translate(998.3,1467.4) rotate(0)">
<text x="0" y="0">217</text>
<text class="m" x="32.4" y="0" textLength="21.6" lengthAdjust="spacingAndGlyphs">mm</text>
</g>
</g>
</svg></body></html>
